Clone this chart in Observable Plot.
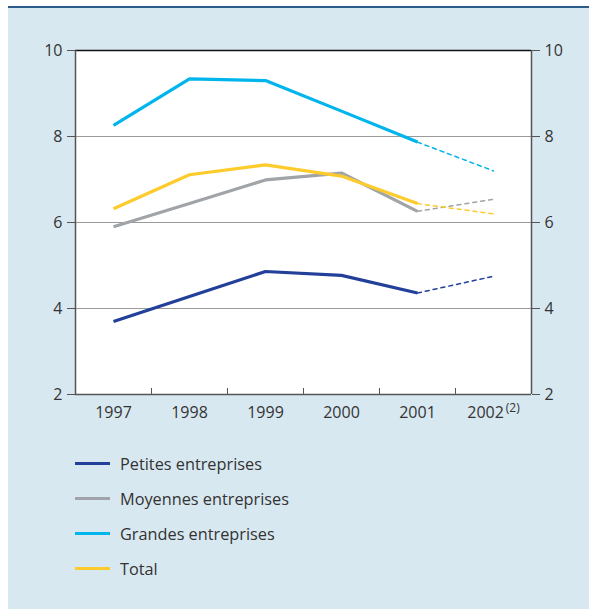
<!DOCTYPE html>
<html>
<head>
<meta charset="utf-8">
<script src="https://cdn.jsdelivr.net/npm/d3@7"></script>
<script src="https://cdn.jsdelivr.net/npm/@observablehq/plot@0.6"></script>
<style>
  html, body { margin: 0; padding: 0; background: #ffffff; }
  #page { position: relative; width: 589px; height: 609px; overflow: hidden; font-family: "Open Sans", "Noto Sans", sans-serif; }
  #panel { position: absolute; left: 8px; top: 6px; width: 581px; height: 603px; background: #d8e8f1; border-top: 2px solid #2b5b8b; box-sizing: border-box; }
  #chart { position: absolute; left: 0; top: 0; }
  #legend { position: absolute; left: 75px; top: 446px; }
  .item { display: flex; align-items: center; height: 35px; font-size: 16.3px; color: #333; }
  .swatch { width: 35px; height: 3px; margin-right: 10px; }
</style>
</head>
<body>
<div id="page">
  <div id="panel"></div>
  <div id="chart"></div>
  <div id="legend"></div>
</div>
<script>
const years = [1997, 1998, 1999, 2000, 2001, 2002];
const seriesNames = ["Petites entreprises", "Moyennes entreprises", "Grandes entreprises", "Total"];
const seriesColors = ["#22409a", "#a0a4a8", "#00b4ec", "#fdcb2c"];
const petites  = [3.70, 4.28, 4.86, 4.77, 4.36, 4.75];
const moyennes = [5.90, 6.44, 6.99, 7.15, 6.26, 6.54];
const grandes  = [8.26, 9.34, 9.30, 8.59, 7.87, 7.20];
const total    = [6.32, 7.11, 7.34, 7.08, 6.44, 6.20];
const yTicks = [2, 4, 6, 8, 10];
const gridValues = [4, 6, 8];
const estimateYear = 2002;
const estimateNote = "(2)";

const values = [petites, moyennes, grandes, total];
const rows = [];
values.forEach((vals, s) => years.forEach((yr, i) => rows.push({series: seriesNames[s], year: yr, value: vals[i]})));
const solid = rows.filter(d => d.year <= 2001);
const dashed = rows.filter(d => d.year >= 2001);
const boundaries = years.slice(0, -1).map(y => y + 0.5);
const xDomain = [years[0] - 0.5, years[years.length - 1] + 0.5];
const colorScale = {domain: seriesNames, range: seriesColors};

const chart = Plot.plot({
  width: 589,
  height: 430,
  marginLeft: 75,
  marginRight: 58,
  marginTop: 50,
  marginBottom: 36,
  style: {background: "transparent", fontFamily: "'Open Sans', 'Noto Sans', sans-serif", fontSize: "16px", color: "#333"},
  x: {domain: xDomain},
  y: {domain: [2, 10]},
  color: colorScale,
  marks: [
    Plot.frame({fill: "white", stroke: "none"}),
    Plot.ruleY(gridValues, {stroke: "#9a9a9a", strokeWidth: 1.2}),
    Plot.ruleY([10], {stroke: "#111", strokeWidth: 1.4}),
    Plot.ruleY([2], {stroke: "#555", strokeWidth: 1.5}),
    Plot.ruleX(xDomain, {stroke: "#555", strokeWidth: 1.5}),
    Plot.axisY({anchor: "left", ticks: yTicks, tickSize: 8, tickPadding: 5, stroke: "#555", fill: "#333", fontSize: 16, label: null}),
    Plot.axisY({anchor: "right", ticks: yTicks, tickSize: 8, tickPadding: 5, stroke: "#555", fill: "#333", fontSize: 16, label: null}),
    Plot.axisX({ticks: boundaries, tickSize: -6, tickFormat: () => "", stroke: "#555", label: null}),
    Plot.axisX({ticks: years, tickSize: 0, tickPadding: 12, fill: "#333", fontSize: 16, label: null,
      tickFormat: d => String(d)}),
    Plot.line(solid, {x: "year", y: "value", z: "series", stroke: "series", strokeWidth: 3.2, strokeLinejoin: "miter", strokeLinecap: "butt"}),
    Plot.line(dashed, {x: "year", y: "value", z: "series", stroke: "series", strokeWidth: 1.5, strokeDasharray: "4,4"})
  ]
});
document.getElementById("chart").appendChild(chart);

// superscript note on the provisional year label
chart.querySelectorAll("text").forEach(t => {
  if (t.textContent === String(estimateYear)) {
    const ts = document.createElementNS("http://www.w3.org/2000/svg", "tspan");
    ts.setAttribute("font-size", "12");
    ts.setAttribute("dy", "-0.45em");
    ts.setAttribute("dx", "2");
    ts.textContent = estimateNote;
    t.appendChild(ts);
  }
});

const legend = document.getElementById("legend");
seriesNames.forEach((name, i) => {
  const item = document.createElement("div");
  item.className = "item";
  const sw = document.createElement("div");
  sw.className = "swatch";
  sw.style.background = seriesColors[i];
  const label = document.createElement("span");
  label.textContent = name;
  item.appendChild(sw);
  item.appendChild(label);
  legend.appendChild(item);
});
</script>
</body>
</html>
